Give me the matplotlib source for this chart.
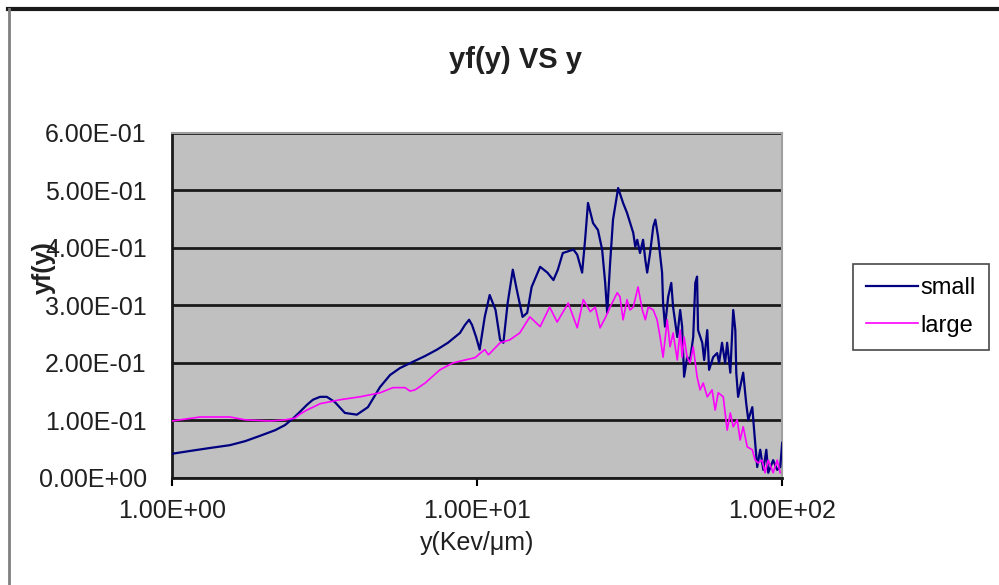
import matplotlib
matplotlib.use("Agg")
import matplotlib.pyplot as plt
from matplotlib.lines import Line2D

plt.rcParams["font.family"] = ["Liberation Sans", "DejaVu Sans"]

# small series
small_x = [1.00, 1.15, 1.33, 1.55, 1.74, 1.94, 2.18, 2.35, 2.49, 2.63,
           2.77, 2.90, 3.06, 3.22, 3.42, 3.69, 4.04, 4.39, 4.81, 5.19,
           5.59, 6.17, 6.76, 7.39, 8.03, 8.79, 9.13, 9.42, 9.63, 9.93,
           10.2, 10.6, 11.0, 11.5, 11.9, 12.2, 12.6, 13.1, 13.5, 14.1,
           14.6, 15.1, 16.1, 17.0, 17.8, 18.4, 19.1, 20.7, 21.3, 22.1,
           22.6, 23.1, 24.0, 24.9, 25.7, 26.3, 26.7, 27.3, 27.9, 29.0,
           30.1, 31.0, 32.5, 33.0, 33.5, 34.2, 35.0, 35.6, 36.1, 36.9,
           37.8, 38.4, 39.2, 40.4, 40.7, 41.3, 42.3, 43.3, 43.9, 45.3,
           46.3, 47.0, 47.7, 48.8, 49.9, 51.1, 51.9, 52.6, 53.0, 54.7,
           55.5, 56.8, 57.6, 59.4, 61.2, 62.1, 63.5, 65.0, 66.0, 67.6,
           69.1, 70.2, 70.7, 71.7, 74.5, 76.2, 77.4, 79.8, 80.9, 82.8,
           84.7, 86.7, 88.7, 90.0, 93.4, 96.3, 98.5, 100.0]
small_y = [0.042, 0.047, 0.052, 0.057, 0.064, 0.073, 0.083, 0.092, 0.103, 0.115,
           0.127, 0.136, 0.141, 0.141, 0.132, 0.113, 0.110, 0.123, 0.158, 0.179,
           0.191, 0.202, 0.212, 0.223, 0.235, 0.252, 0.266, 0.275, 0.266, 0.245,
           0.223, 0.280, 0.318, 0.292, 0.240, 0.235, 0.304, 0.362, 0.327, 0.280,
           0.287, 0.332, 0.367, 0.357, 0.344, 0.362, 0.391, 0.397, 0.388, 0.357,
           0.414, 0.478, 0.443, 0.431, 0.397, 0.339, 0.287, 0.374, 0.449, 0.504,
           0.478, 0.461, 0.426, 0.402, 0.414, 0.391, 0.414, 0.379, 0.357, 0.391,
           0.437, 0.449, 0.419, 0.357, 0.304, 0.263, 0.315, 0.339, 0.297, 0.245,
           0.292, 0.263, 0.176, 0.210, 0.205, 0.245, 0.339, 0.350, 0.257, 0.235,
           0.205, 0.257, 0.188, 0.210, 0.217, 0.200, 0.235, 0.200, 0.235, 0.183,
           0.292, 0.257, 0.183, 0.141, 0.183, 0.130, 0.101, 0.123, 0.083, 0.019,
           0.049, 0.014, 0.049, 0.009, 0.031, 0.014, 0.019, 0.061]

# large series
large_x = [1.00, 1.24, 1.55, 1.74, 2.10, 2.35, 2.53, 2.63, 2.77, 2.90,
           3.06, 3.56, 4.13, 4.81, 5.30, 5.81, 6.03, 6.26, 6.76, 7.56,
           8.34, 9.13, 9.85, 10.2, 10.6, 10.9, 11.9, 12.8, 13.8, 14.9,
           16.1, 17.3, 18.3, 19.9, 21.3, 22.3, 23.5, 24.4, 25.3, 26.3,
           27.3, 28.8, 29.4, 30.1, 31.0, 31.7, 32.5, 33.7, 34.8, 35.6,
           36.4, 37.8, 38.9, 39.8, 40.7, 42.0, 42.9, 43.9, 45.3, 46.3,
           47.0, 47.7, 48.8, 49.9, 51.1, 52.6, 53.8, 55.1, 56.8, 58.9,
           60.3, 61.7, 64.1, 66.0, 67.6, 69.1, 71.2, 72.8, 74.5, 76.8,
           79.8, 81.5, 83.4, 85.9, 87.9, 90.0, 93.4, 96.3, 98.5]
large_y = [0.099, 0.106, 0.106, 0.101, 0.099, 0.101, 0.104, 0.111, 0.118, 0.123,
           0.129, 0.136, 0.141, 0.148, 0.157, 0.157, 0.151, 0.153, 0.165, 0.188,
           0.200, 0.205, 0.209, 0.216, 0.223, 0.214, 0.235, 0.240, 0.252, 0.280,
           0.263, 0.297, 0.271, 0.304, 0.261, 0.310, 0.289, 0.297, 0.261, 0.278,
           0.297, 0.322, 0.315, 0.275, 0.310, 0.292, 0.297, 0.332, 0.292, 0.275,
           0.297, 0.292, 0.275, 0.245, 0.210, 0.275, 0.228, 0.252, 0.205, 0.257,
           0.210, 0.245, 0.210, 0.200, 0.228, 0.176, 0.153, 0.165, 0.141, 0.153,
           0.118, 0.148, 0.141, 0.083, 0.113, 0.089, 0.101, 0.066, 0.089, 0.054,
           0.049, 0.031, 0.026, 0.031, 0.009, 0.031, 0.009, 0.031, 0.009]

y_ticks = [0.0, 0.1, 0.2, 0.3, 0.4, 0.5, 0.6]
x_ticks = [1, 10, 100]

fig = plt.figure(figsize=(9.99, 5.85), dpi=100)
ax = fig.add_axes([0.172, 0.183, 0.611, 0.590])
ax.set_facecolor("#c0c0c0")

ax.plot(small_x, small_y, color="#000080", lw=1.6, label="small", zorder=3)
ax.plot(large_x, large_y, color="#ff00ff", lw=1.2, label="large", zorder=3)

ax.set_xscale("log")
ax.set_xlim(1, 100)
ax.set_ylim(0, 0.6)
ax.set_xticks(x_ticks)
ax.set_xticklabels(["%.2E" % v for v in x_ticks])
ax.minorticks_off()
ax.set_yticks(y_ticks)
ax.set_yticklabels(["%.2E" % v for v in y_ticks])
ax.tick_params(axis="y", length=0, pad=18, labelsize=18, labelcolor="#202020")
ax.tick_params(axis="x", length=6, width=1.5, pad=9, labelsize=18, labelcolor="#202020")
ax.yaxis.grid(True, color="#1a1a1a", lw=2)
ax.set_axisbelow(True)

for s in ["left", "bottom"]:
    ax.spines[s].set_color("#1a1a1a")
    ax.spines[s].set_linewidth(2)
for s in ["top", "right"]:
    ax.spines[s].set_color("#a0a0a0")
    ax.spines[s].set_linewidth(1.5)

ax.set_xlabel("y(Kev/\u03bcm)", fontsize=18, color="#202020", labelpad=6)
fig.text(0.044, 0.542, "yf(y)", rotation=90, fontsize=18, fontweight="bold",
         ha="center", va="center", color="#202020")
fig.text(0.516, 0.898, "yf(y) VS y", fontsize=21, fontweight="bold",
         ha="center", va="center", color="#202020")

leg = fig.legend(loc="upper left", bbox_to_anchor=(0.854, 0.548), fontsize=17,
                 frameon=True, fancybox=False, handlelength=2.2, handletextpad=0.1,
                 borderpad=0.55, labelspacing=0.65, borderaxespad=0)
leg.get_frame().set_edgecolor("#1a1a1a")
leg.get_frame().set_linewidth(1.2)

# chart border
fig.add_artist(Line2D([0.008, 1.0], [0.985, 0.985], color="#1a1a1a", lw=3,
                      transform=fig.transFigure))
fig.add_artist(Line2D([0.009, 0.009], [0.0, 0.985], color="#808080", lw=2,
                      transform=fig.transFigure))

fig.savefig("out.png", dpi=100)
